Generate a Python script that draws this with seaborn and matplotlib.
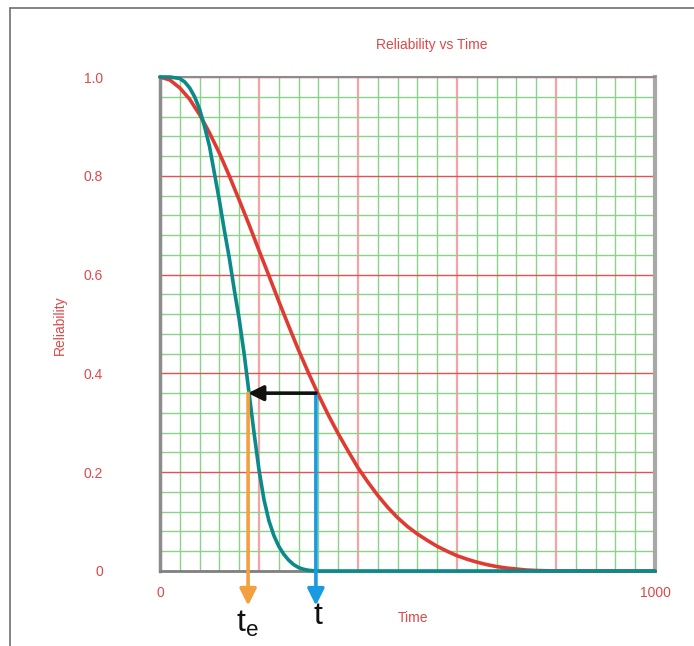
import numpy as np
import seaborn as sns
import matplotlib.pyplot as plt
import pandas as pd
from matplotlib.ticker import MultipleLocator, FixedFormatter, FixedLocator
from matplotlib.lines import Line2D

sns.set_style('white')
plt.rcParams['font.family'] = ['Liberation Sans', 'DejaVu Sans']

# values
red_time = [0, 20, 40, 60, 80, 100, 120, 140, 160, 180, 200, 220, 240, 260, 280,
            300, 320, 340, 360, 380, 400, 420, 440, 460, 480, 500, 520, 540, 560,
            580, 600, 620, 640, 660, 680, 700, 720, 740, 760, 800, 1000]
red_rel = [1.0, 0.994, 0.978, 0.955, 0.924, 0.887, 0.846, 0.80, 0.751, 0.701,
           0.649, 0.598, 0.546, 0.496, 0.447, 0.401, 0.357, 0.316, 0.278, 0.243,
           0.209, 0.180, 0.153, 0.129, 0.108, 0.090, 0.075, 0.062, 0.050, 0.040,
           0.031, 0.024, 0.018, 0.013, 0.009, 0.006, 0.004, 0.002, 0.001, 0.0, 0.0]

teal_time = [0, 20, 40, 50, 60, 70, 80, 90, 100, 110, 120, 130, 140, 150, 160,
             170, 180, 190, 200, 210, 220, 230, 240, 250, 260, 270, 280, 290,
             300, 310, 320, 400, 600, 800, 1000]
teal_rel = [1.0, 1.0, 0.997, 0.99, 0.978, 0.96, 0.935, 0.90, 0.86, 0.805, 0.75,
            0.69, 0.634, 0.57, 0.51, 0.44, 0.36, 0.28, 0.205, 0.145, 0.102, 0.072,
            0.050, 0.034, 0.022, 0.013, 0.007, 0.0035, 0.0015, 0.0005, 0.0, 0.0,
            0.0, 0.0, 0.0]

t_e = 178
t_val = 315
r_val = 0.36

y_ticks = [0, 0.2, 0.4, 0.6, 0.8, 1.0]
y_labels = ['0', '0.2', '0.4', '0.6', '0.8', '1.0']
x_ticks = [0, 200, 400, 600, 800, 1000]
x_labels = ['0', '', '', '', '', '1000']

df = pd.concat([
    pd.DataFrame({'Time': red_time, 'Reliability': red_rel, 'curve': 'red'}),
    pd.DataFrame({'Time': teal_time, 'Reliability': teal_rel, 'curve': 'teal'}),
])

fig = plt.figure(figsize=(6.94, 6.46), dpi=100)
ax = fig.add_axes([0.2305, 0.1161, 0.7133, 0.7647])

sns.lineplot(data=df, x='Time', y='Reliability', hue='curve',
             palette={'red': '#e03a32', 'teal': '#0a8a88'}, linewidth=2.6,
             legend=False, ax=ax, zorder=5, clip_on=False)

ax.set_xlim(0, 1000)
ax.set_ylim(0, 1)
ax.xaxis.set_major_locator(FixedLocator(x_ticks))
ax.xaxis.set_major_formatter(FixedFormatter(x_labels))
ax.yaxis.set_major_locator(FixedLocator(y_ticks))
ax.yaxis.set_major_formatter(FixedFormatter(y_labels))
ax.xaxis.set_minor_locator(MultipleLocator(40))
ax.yaxis.set_minor_locator(MultipleLocator(0.04))

ax.xaxis.grid(True, which='major', color='#f4a4a4', lw=1.6, zorder=1)
ax.yaxis.grid(True, which='major', color='#e65050', lw=1.0, zorder=1)
ax.grid(True, which='minor', color='#8ad28a', lw=1.0, zorder=0)
ax.set_axisbelow(True)

ax.tick_params(axis='both', which='major', length=10, width=1.3, color='#f0a0a0',
               labelcolor='#e04848', labelsize=10)
ax.tick_params(axis='x', which='major', pad=1)
ax.tick_params(axis='y', which='major', pad=31)
ax.tick_params(axis='both', which='minor', length=2, width=1, color='#8ad28a')

for side, w, c in [('left', 2.5, '#8c8c8c'), ('bottom', 2.0, '#808080'),
                   ('right', 3.0, '#a8a8a8'), ('top', 1.5, '#8c8c8c')]:
    ax.spines[side].set_visible(True)
    ax.spines[side].set_linewidth(w)
    ax.spines[side].set_color(c)

ax.set_xlabel('')
ax.set_ylabel('')

# arrows
ax.annotate('', xy=(t_e, r_val), xytext=(t_val, r_val),
            arrowprops=dict(arrowstyle='-|>,head_width=0.45,head_length=0.9',
                            color='#111111', lw=2.6, shrinkA=0, shrinkB=0),
            zorder=7, annotation_clip=False)
ax.annotate('', xy=(t_e, -0.07), xytext=(t_e, r_val),
            arrowprops=dict(arrowstyle='-|>,head_width=0.5,head_length=1.0',
                            color='#f2a040', lw=2.6, shrinkA=0, shrinkB=0),
            zorder=6, annotation_clip=False)
ax.annotate('', xy=(t_val, -0.07), xytext=(t_val, r_val),
            arrowprops=dict(arrowstyle='-|>,head_width=0.5,head_length=1.0',
                            color='#1a9ae0', lw=2.6, shrinkA=0, shrinkB=0),
            zorder=6, annotation_clip=False)

fig.text(247 / 694, 1 - 624 / 646, r'$\mathregular{t_e}$', fontsize=23,
         ha='center', va='center', color='#111111')
fig.text(318 / 694, 1 - 616 / 646, 't', fontsize=23,
         ha='center', va='center', color='#111111')

fig.text(432 / 694, 1 - 45 / 646, 'Reliability vs Time', color='#e04848',
         fontsize=10, ha='center', va='center')
fig.text(413 / 694, 1 - 618 / 646, 'Time', color='#e04848',
         fontsize=10, ha='center', va='center')
fig.text(60 / 694, 1 - 325 / 646, 'Reliability', color='#e04848',
         fontsize=10, ha='center', va='center', rotation=90)

# outer frame
fig.add_artist(Line2D([10 / 694, 1.0], [1 - 8 / 646, 1 - 8 / 646],
                      color='#707070', lw=1.2, transform=fig.transFigure))
fig.add_artist(Line2D([10 / 694, 10 / 694], [0.0, 1 - 8 / 646],
                      color='#707070', lw=1.2, transform=fig.transFigure))

fig.savefig('out.png', dpi=100)
